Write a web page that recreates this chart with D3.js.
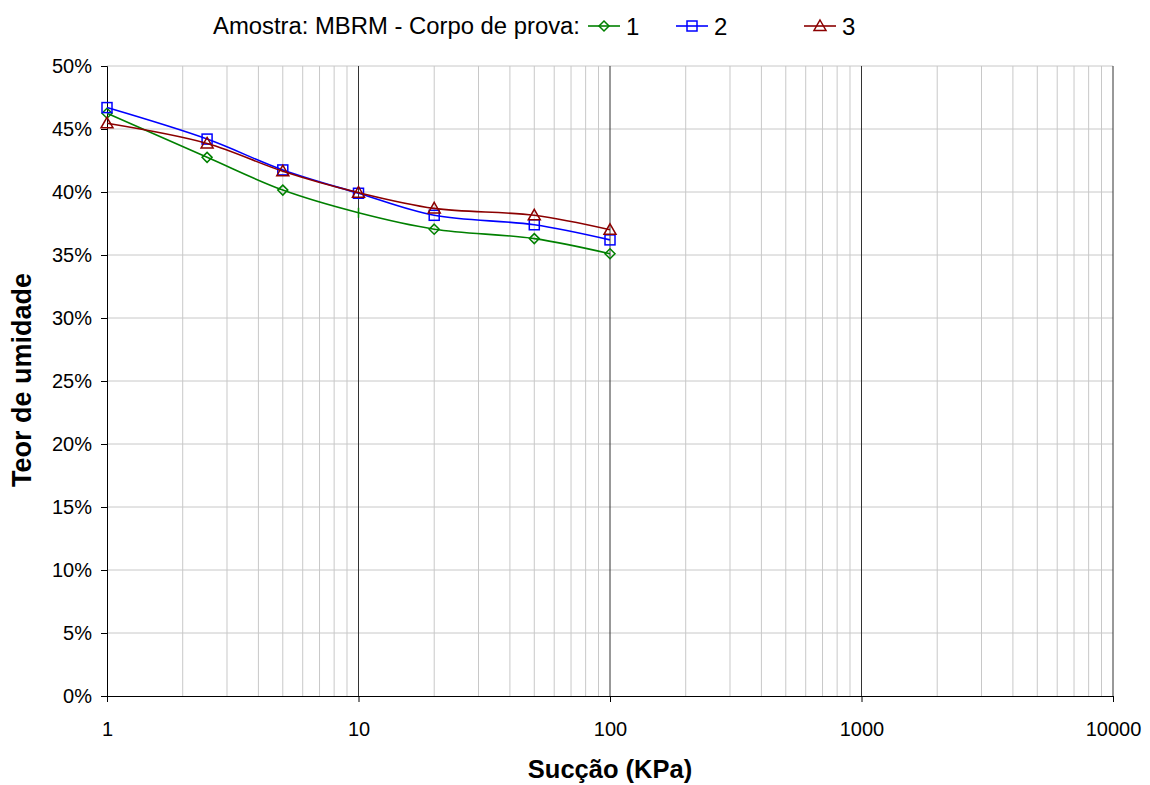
<!DOCTYPE html>
<html><head><meta charset="utf-8">
<script src="https://cdn.jsdelivr.net/npm/d3@7"></script>
<style>
body{margin:0;background:#fff;}
text{font-family:"Liberation Sans",Arial,sans-serif;}
</style></head>
<body>
<svg id="c" width="1150" height="785"></svg>
<script>
const suction = [1, 2.5, 5, 10, 20, 50, 100];
const series1 = [46.25, 42.75, 40.15, 38.35, 37.05, 36.3, 35.1];
const series2 = [46.7, 44.2, 41.75, 39.9, 38.15, 37.4, 36.2];
const series3 = [45.45, 43.85, 41.65, 39.95, 38.7, 38.15, 37.0];
const seriesNames = ["1", "2", "3"];
const seriesColors = ["#008000", "#0000ff", "#8b0000"];
const xTicks = [1, 10, 100, 1000, 10000];
const yTicks = [0, 5, 10, 15, 20, 25, 30, 35, 40, 45, 50];

const W = 1150, H = 785;
const m = {l: 107, r: 37, t: 66, b: 89};
const svg = d3.select("#c");
const x = d3.scaleLog().domain([1, 10000]).range([m.l, W - m.r]);
const y = d3.scaleLinear().domain([0, 50]).range([H - m.b, m.t]);
const FF = "Liberation Sans, Arial, sans-serif";

// minor vertical grid
const minor = [];
for (let d = 1; d < 10000; d *= 10) for (let k = 2; k <= 9; k++) minor.push(d * k);
svg.append("g").selectAll("line").data(minor).join("line")
  .attr("x1", d => x(d)).attr("x2", d => x(d)).attr("y1", y(0)).attr("y2", y(50))
  .attr("stroke", "#c8c8c8").attr("stroke-width", 1);
// horizontal grid
svg.append("g").selectAll("line").data(yTicks.filter(d => d > 0)).join("line")
  .attr("x1", x(1)).attr("x2", x(10000)).attr("y1", d => y(d)).attr("y2", d => y(d))
  .attr("stroke", "#c8c8c8").attr("stroke-width", 1);
// major vertical grid
svg.append("g").selectAll("line").data(xTicks.slice(1)).join("line")
  .attr("x1", d => x(d)).attr("x2", d => x(d)).attr("y1", y(0)).attr("y2", y(50))
  .attr("stroke", "#333").attr("stroke-width", 1);

// axes
const xa = svg.append("g").attr("transform", `translate(0,${y(0)})`)
  .call(d3.axisBottom(x).tickValues(xTicks).tickFormat(d3.format("d")).tickSize(6).tickPadding(20));
xa.select(".domain").attr("stroke", "#000");
xa.selectAll("text").attr("font-size", 20).attr("fill", "#000").attr("font-family", FF);
const ya = svg.append("g").attr("transform", `translate(${x(1)},0)`)
  .call(d3.axisLeft(y).tickValues(yTicks).tickFormat(d => d + "%").tickSize(6).tickPadding(9));
ya.select(".domain").attr("stroke", "#000");
ya.selectAll("text").attr("font-size", 20).attr("fill", "#000").attr("font-family", FF);

// axis titles
svg.append("text").attr("x", 610).attr("y", 778).attr("text-anchor", "middle")
  .attr("font-size", 25.5).attr("font-weight", "bold").text("Sucção (KPa)");
svg.append("text").attr("transform", `translate(31,380) rotate(-90)`)
  .attr("text-anchor", "middle").attr("font-size", 27).attr("font-weight", "bold").text("Teor de umidade");

// series
const allSeries = [series1, series2, series3];
const line = d3.line().x(d => x(d[0])).y(d => y(d[1])).curve(d3.curveCatmullRom.alpha(0.5));

function marker(g, i, cx, cy, special) {
  const c = seriesColors[i];
  if (i === 0) {
    if (special) {
      g.append("line").attr("x1", cx).attr("x2", cx).attr("y1", cy - 5).attr("y2", cy + 5)
        .attr("stroke", c).attr("stroke-width", 1.5);
    } else {
      g.append("path").attr("d", `M${cx},${cy-5}L${cx+5},${cy}L${cx},${cy+5}L${cx-5},${cy}Z`)
        .attr("fill", "none").attr("stroke", c).attr("stroke-width", 1.5);
    }
  } else if (i === 1) {
    g.append("rect").attr("x", cx - 5).attr("y", cy - 5).attr("width", 10).attr("height", 10)
      .attr("fill", "none").attr("stroke", c).attr("stroke-width", 1.5);
  } else {
    g.append("path").attr("d", `M${cx},${cy-6}L${cx+6},${cy+4.5}L${cx-6},${cy+4.5}Z`)
      .attr("fill", "none").attr("stroke", c).attr("stroke-width", 1.5);
  }
}

allSeries.forEach((vals, i) => {
  const pts = suction.map((s, j) => [s, vals[j]]);
  const g = svg.append("g");
  g.append("path").attr("d", line(pts)).attr("fill", "none")
    .attr("stroke", seriesColors[i]).attr("stroke-width", 1.6);
  pts.forEach((p, j) => marker(g, i, x(p[0]), y(p[1]), i === 0 && p[0] === 10));
});

// legend
const lg = svg.append("g");
lg.append("text").attr("x", 213).attr("y", 34).attr("font-size", 23.5).attr("textLength", 367)
  .attr("lengthAdjust", "spacingAndGlyphs").text("Amostra: MBRM - Corpo de prova:");
const legX = [588, 676, 804];
seriesNames.forEach((n, i) => {
  const lx = legX[i], ly = 26;
  lg.append("line").attr("x1", lx).attr("x2", lx + 32).attr("y1", ly).attr("y2", ly)
    .attr("stroke", seriesColors[i]).attr("stroke-width", 1.6);
  marker(lg, i, lx + 16, ly, false);
  lg.append("text").attr("x", lx + 38).attr("y", 35).attr("font-size", 24).text(n);
});
</script>
</body></html>
